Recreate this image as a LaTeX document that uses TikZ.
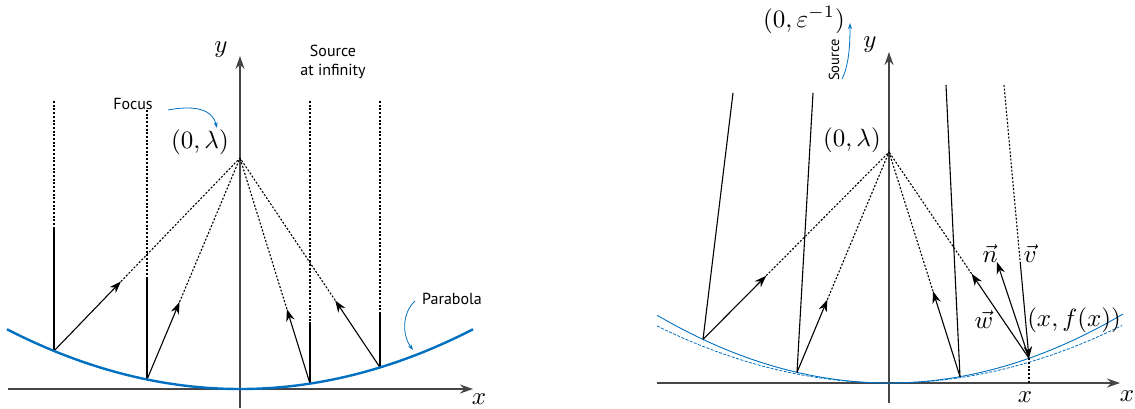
\documentclass[tikz,border=0pt]{standalone}
\usepackage{fontspec}
\newfontfamily\labfont{PT Sans}
\usetikzlibrary{arrows.meta,calc}
\definecolor{pblue}{RGB}{0,112,192}
\definecolor{axgray}{RGB}{70,70,70}
\newcommand{\mylargemath}[1]{\scalebox{2.5}{$#1$}}
\begin{document}
\begin{tikzpicture}[x=1pt,y=-1pt,
  axis/.style={axgray,line width=1.3pt,-{Stealth[length=13pt,width=9pt]}},
  ray/.style={black,line width=1.1pt},
  dots/.style={black,line width=1.1pt,dash pattern=on 2pt off 1.7pt},
  refl/.style={ray,-{Stealth[length=12pt,width=8.5pt]}},
  mathlab/.style={inner sep=0pt},
  lab/.style={font=\labfont\fontsize{16}{19}\selectfont,inner sep=0pt,align=center},
  note/.style={pblue,line width=0.8pt,-{Stealth[length=6pt,width=4pt]}}
]
\useasboundingbox (0,0) rectangle (1135,408);

% ================= LEFT PANEL =================
\coordinate (F1) at (240,158);
\coordinate (h1) at (54,350.94);
\coordinate (h2) at (147,379.49);
\coordinate (h3) at (310,383.61);
\coordinate (h4) at (380,367.44);
\coordinate (u1) at (54,101);  \coordinate (b1) at (54,229);
\coordinate (u2) at (147,110); \coordinate (b2) at (147,278);
\coordinate (u3) at (310,101); \coordinate (b3) at (310,322);
\coordinate (u4) at (380,101); \coordinate (b4) at (380,313);
\coordinate (xl0) at (8,389);   \coordinate (xl1) at (473,389);
\coordinate (yl0) at (240,408); \coordinate (yl1) at (240,56);

\draw[axis] (xl0) -- (xl1);
\draw[axis] (yl0) -- (yl1);
\node[mathlab] (xlab1) at (479,399) {\mylargemath{x}};
\node[mathlab] (ylab1) at (221,50) {\mylargemath{y}};

% incoming rays
\foreach \i in {1,2,3,4}{
  \draw[dots] (u\i) -- (b\i);
  \draw[ray] (b\i) -- (h\i);
}
% reflected rays
\foreach \i/\f in {1/0.36,2/0.35,3/0.33,4/0.32}{
  \coordinate (r\i) at ($(h\i)!\f!(F1)$);
  \draw[refl] (h\i) -- (r\i);
  \draw[dots] (r\i) -- (F1);
}
% parabola
\draw[pblue,line width=2.4pt] plot[domain=7:473,samples=80] (\x,{389-11*((\x-240)/100)^2});

\node[mathlab] (foc1) at (200,142) {\mylargemath{(0,\lambda)}};
\node[lab] (focus) at (133,104) {Focus};
\node[lab] (src1) at (333,62) {Source\\at infinity};
\node[lab] (para) at (452,299) {Parabola};
\coordinate (fa0) at (168,110); \coordinate (fa1) at (217,128);
\draw[note] (fa0) .. controls (200,104) and (213,112) .. (fa1);
\coordinate (pa0) at (415,301); \coordinate (pa1) at (413,350);
\draw[note] (pa0) .. controls (402,313) and (402,335) .. (pa1);

% ================= RIGHT PANEL =================
\coordinate (F2) at (889,152);
\coordinate (k1) at (703,339.41);
\coordinate (k2) at (797,372.34);
\coordinate (k3) at (960,376.65);
\coordinate (k4) at (1029,358.30);
\coordinate (t1) at (733,93);
\coordinate (t2) at (813,93);
\coordinate (t3) at (946,85);
\coordinate (t4) at (1004,85);
\coordinate (xr0) at (657,383);  \coordinate (xr1) at (1120,383);
\coordinate (yr0) at (889,403);  \coordinate (yr1) at (889,52);
\coordinate (xk) at (1029,383);

\draw[axis] (xr0) -- (xr1);
\draw[axis] (yr0) -- (yr1);
\node[mathlab] (xlab2) at (1127,396) {\mylargemath{x}};
\node[mathlab] (ylab2) at (870,45) {\mylargemath{y}};

% parabolas
\draw[pblue,line width=0.8pt,dash pattern=on 3pt off 1.5pt] plot[domain=657:1122,samples=80] (\x,{383-10.6*((\x-889)/100)^2});
\draw[pblue,line width=0.9pt] plot[domain=657:1123,samples=80] (\x,{383-12.6*((\x-889)/100)^2});

% incoming rays
\draw[ray] (t1) -- (k1);
\draw[ray] (t2) -- (k2);
\draw[ray] (t3) -- (k3);
\coordinate (m4) at ($(t4)!0.648!(k4)$);
\draw[dots] (t4) -- (m4);
\draw[refl] (m4) -- (k4);
\draw[dots] (k4) -- (xk);

% reflected rays
\foreach \i/\f in {1/0.34,2/0.33,3/0.38,4/0.41}{
  \coordinate (s\i) at ($(k\i)!\f!(F2)$);
  \draw[refl] (k\i) -- (s\i);
  \draw[dots] (s\i) -- (F2);
}
\coordinate (nt) at (997,262);
\draw[refl] (k4) -- (nt);

\node[mathlab] (foc2) at (852,140) {\mylargemath{(0,\lambda)}};
\node[mathlab] (src2) at (804,20) {\mylargemath{(0,\varepsilon^{-1})}};
\node[lab,rotate=90,font=\labfont\fontsize{14.5}{17}\selectfont] (srclab) at (834,60) {Source};
\coordinate (sa0) at (842,79); \coordinate (sa1) at (850,23);
\draw[note] (sa0) .. controls (849,65) and (850,45) .. (sa1);

\node[mathlab] (nlab) at (990,254) {\mylargemath{\vec{n}}};
\node[mathlab] (vlab) at (1030,254) {\mylargemath{\vec{v}}};
\node[mathlab] (wlab) at (984,320) {\mylargemath{\vec{w}}};
\node[mathlab] (plab) at (1074,320) {\mylargemath{(x,f(x))}};
\node[mathlab] (xtick) at (1025,397) {\mylargemath{x}};
\end{tikzpicture}
\end{document}
